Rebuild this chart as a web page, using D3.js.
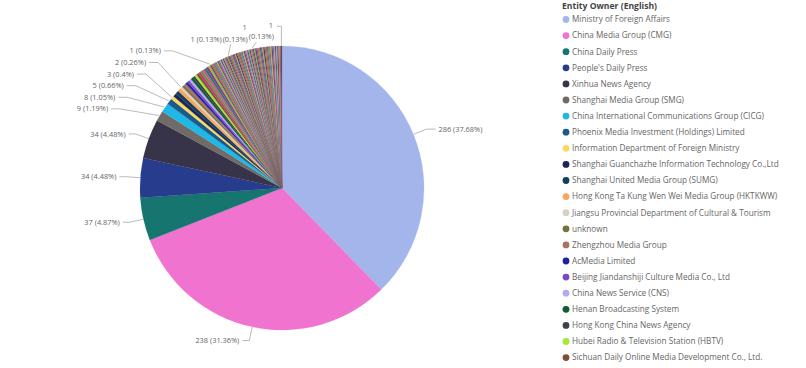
<!DOCTYPE html>
<html><head><meta charset="utf-8">
<script src="https://cdn.jsdelivr.net/npm/d3@7"></script>
<style>
html,body{margin:0;padding:0;background:#fff;}
svg{display:block;font-family:"Segoe UI","Open Sans",sans-serif;}
</style></head>
<body>
<svg id="chart" width="806" height="368"></svg>
<script>
// ---- data ----
const legendTitle = "Entity Owner (English)";
const owners = [
  "Ministry of Foreign Affairs","China Media Group (CMG)","China Daily Press","People's Daily Press",
  "Xinhua News Agency","Shanghai Media Group (SMG)","China International Communications Group (CICG)",
  "Phoenix Media Investment (Holdings) Limited","Information Department of Foreign Ministry",
  "Shanghai Guanchazhe Information Technology Co.,Ltd","Shanghai United Media Group (SUMG)",
  "Hong Kong Ta Kung Wen Wei Media Group (HKTKWW)","Jiangsu Provincial Department of Cultural & Tourism",
  "unknown","Zhengzhou Media Group","AcMedia Limited","Beijing Jiandanshiji Culture Media Co., Ltd",
  "China News Service (CNS)","Henan Broadcasting System","Hong Kong China News Agency",
  "Hubei Radio & Television Station (HBTV)","Sichuan Daily Online Media Development Co., Ltd."
];
// counts per owner, sorted descending (92 owners in total; only the first 22 are visible in the legend)
const counts = [
  286,238,37,34,34,9,8,5,
  3,3,3,3,
  2,2,2,2,2,2,2,2,2,2,2,2,2,2,2,2,
  1,1,1,1,1,1,1,1,1,1,1,1,1,1,1,1,1,1,1,1,1,1,1,1,1,1,1,1,1,1,1,1,
  1,1,1,1,1,1,1,1,1,1,1,1,1,1,1,1,1,1,1,1,1,1,1,1,1,1,1,1,1,1,1,1
];
const legendColors = [
  "#a3b5eb","#f073cf","#16756f","#283c8e","#37344a","#706b66","#1fb8e6","#1c5a8b",
  "#f9d95f","#1d2457","#143f5c","#f7a75d","#dbcfc4","#77703a","#a87066","#1b249e",
  "#7948c6","#b6a8f1","#0f5c2d","#3c414e","#a7e833","#7b5235"
];
const extraColors = [
  "#c8357f","#5a9e3a","#e0508a","#1e7f7a","#8b3a8f","#9fb83a","#2b3a80","#d94f6a",
  "#6e8c2a","#b0407a","#3aa57a","#7a5aa8","#c9b23a","#8a2f5a","#4a7fb0","#e27bb8",
  "#2f6b3a","#a0a0a8","#5c3c7c","#d6834a","#3c8c9c","#9c2f4c","#78b84a","#404a70"
];
// slices that carry a data label
const labelled = [0,1,2,3,4,5,6,7,8,12,28,45,66,91];

// ---- chart ----
const svg = d3.select("#chart");
const cx = 282, cy = 188, R = 142;
const total = d3.sum(counts);
const data = counts.map((v,i)=>({i, value:v, name: owners[i] || ("Owner " + (i+1)),
  color: i < legendColors.length ? legendColors[i] : extraColors[(i - legendColors.length) % extraColors.length]}));

const pie = d3.pie().sort(null).value(d=>d.value).startAngle(0).endAngle(2*Math.PI);
const arcs = pie(data);
const arc = d3.arc().innerRadius(0).outerRadius(R);

const g = svg.append("g").attr("transform",`translate(${cx},${cy})`);
g.selectAll("path").data(arcs).join("path")
  .attr("d", arc).attr("fill", d=>d.data.color)
  .attr("stroke", d=>d.data.color).attr("stroke-width",0.2);

const pct = v => {
  const p = Math.round(v/total*10000)/100;
  return String(p) + "%";
};
const polar = (a, r) => [cx + r*Math.sin(a), cy - r*Math.cos(a)];
const mid = d => (d.startAngle + d.endAngle)/2;

const lab = svg.append("g").attr("font-size", 7.4).attr("fill", "#666");
const lines = svg.append("g").attr("fill","none").attr("stroke","#aaa").attr("stroke-width",0.8);
const step = 11.6;
let prevY = null;
const a2 = 195, b2 = 175;
let topX = null;
labelled.forEach((idx, k) => {
  const d = arcs[idx];
  const m = mid(d);
  const p0 = polar(m, R);
  const el = polar(m, R + 14);
  const txt = `${d.data.value} (${pct(d.data.value)})`;
  const right = Math.sin(m) > 0;
  if (idx <= 4) {
    const tx = right ? el[0] + 12 : el[0] - 10;
    lines.append("path").attr("d", d3.line()([p0, el, [right ? tx - 3 : tx + 3, el[1]]]));
    lab.append("text").attr("x", tx).attr("y", el[1]).attr("dy","0.35em")
      .attr("text-anchor", right ? "start" : "end").text(txt);
    prevY = idx === 4 ? el[1] : prevY;
  } else if (idx <= 28) {
    const y = prevY === null ? el[1] : Math.min(el[1], prevY - step);
    prevY = y;
    const dy = y - cy;
    const xe = cx - a2*Math.sqrt(Math.max(0, 1 - (dy*dy)/(b2*b2)));
    const tx = Math.min(xe, el[0] - 10);
    const bend = [tx + 12, y];
    lines.append("path").attr("d", d3.line()([polar(m, R + 1), bend, [tx + 3, y]]));
    lab.append("text").attr("x", tx).attr("y", y).attr("dy","0.35em")
      .attr("text-anchor","end").text(txt);
  } else {
    const y = prevY - step + (idx === 91 ? -3 : 0);
    if (idx === 45) {
      const tx = polar(m, R + 8)[0] - 4;
      lab.append("text").attr("x", tx).attr("y", y).attr("dy","0.35em")
        .attr("text-anchor","end").text(txt);
      topX = tx + 1;
      lines.append("path").attr("d", d3.line()([polar(m, R + 1), [p0[0] + 2, y + 5]]));
    } else {
      const t = lab.append("text").attr("x", topX).attr("y", y).attr("dy","0.35em")
        .attr("text-anchor","start").text(`(${pct(d.data.value)})`);
      const w = t.node().getComputedTextLength();
      const endX = topX + w;
      const y1 = y - (idx === 91 ? 11 : 12);
      lab.append("text").attr("x", endX - 1).attr("y", y1).attr("dy","0.35em")
        .attr("text-anchor","end").text(String(d.data.value));
      if (idx === 91) {
        lines.append("path").attr("d", d3.line()([polar(m, R), [p0[0], y1 + 1], [endX + 3, y1 + 1]]));
      } else {
        lines.append("path").attr("d", d3.line()([polar(m, R + 1), [p0[0] + 4, y + 3]]));
      }
      topX = endX + 1;
    }
  }
});

// ---- legend ----
const lg = svg.append("g").attr("transform","translate(561,0)");
lg.append("text").attr("x", 1).attr("y", 6).attr("dy","0.35em")
  .attr("font-size", 8.6).attr("font-weight", 700).attr("fill", "#444").text(legendTitle);
const items = lg.selectAll("g.item").data(owners).join("g").attr("class","item")
  .attr("transform", (d,i)=>`translate(0,${19.5 + i*16.1})`);
items.append("circle").attr("cx", 5).attr("cy", 0).attr("r", 3.4)
  .attr("fill", (d,i)=>legendColors[i]);
items.append("text").attr("x", 11).attr("y", 0).attr("dy","0.35em")
  .attr("font-size", 8.2).attr("fill", "#666").text(d=>d);
</script>
</body></html>
